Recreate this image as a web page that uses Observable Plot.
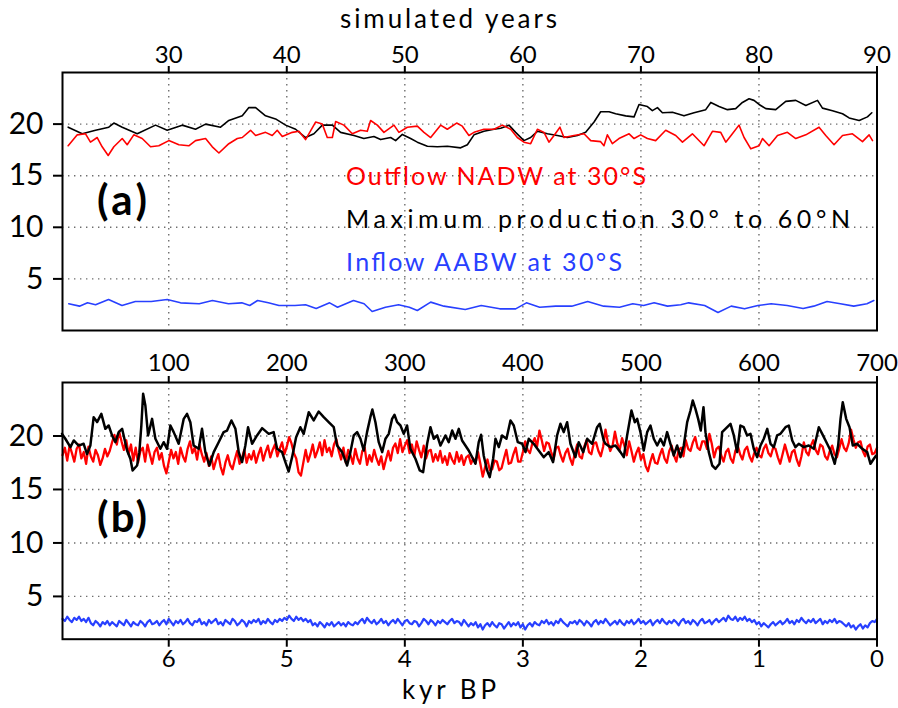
<!DOCTYPE html>
<html>
<head>
<meta charset="utf-8">
<script src="https://cdn.jsdelivr.net/npm/d3@7"></script>
<script src="https://cdn.jsdelivr.net/npm/@observablehq/plot@0.6"></script>
<style>
  html, body { margin: 0; padding: 0; background: #fff; }
  #wrap { position: relative; width: 898px; height: 708px; overflow: hidden; background: #fff; }
  #pa { position: absolute; left: 0; top: 0; }
  #pb { position: absolute; left: 0; top: 340px; }
  #ov { position: absolute; left: 0; top: 0; pointer-events: none; }
  svg text { font-family: Lato, "DejaVu Sans", sans-serif; }
  #pa g[aria-label="y-axis tick label"], #pb g[aria-label="y-axis tick label"] { font-size: 30px; }
  #pa g[aria-label="x-axis tick label"], #pb g[aria-label="x-axis tick label"] { font-size: 24px; }
</style>
</head>
<body>
<div id="wrap">
  <div id="pa"></div>
  <div id="pb"></div>
  <svg id="ov" width="898" height="708" xmlns="http://www.w3.org/2000/svg">
    <text x="340" y="28" font-size="26" textLength="217" lengthAdjust="spacing" fill="#000">simulated years</text>
    <text x="402" y="699" font-size="26" textLength="94" lengthAdjust="spacing" fill="#000">kyr BP</text>
    <text x="97" y="215" font-size="42" font-weight="bold" textLength="50" lengthAdjust="spacing" fill="#000">(a)</text>
    <text x="97" y="532" font-size="42" font-weight="bold" textLength="50" lengthAdjust="spacing" fill="#000">(b)</text>
    <text x="346" y="185" font-size="25" textLength="300" lengthAdjust="spacing" fill="#ff0000">Outflow NADW at 30°S</text>
    <text x="346" y="228" font-size="25" textLength="504" lengthAdjust="spacing" fill="#000">Maximum production 30° to 60°N</text>
    <text x="346" y="271" font-size="25" textLength="276" lengthAdjust="spacing" fill="#2840ff">Inflow AABW at 30°S</text>
  </svg>
</div>
<script>
// ---------- Panel (a): simulated years 21–90 ----------
const yearTicksA = [30, 40, 50, 60, 70, 80, 90];
const valueTicks = [5, 10, 15, 20];

// [simulated year, Sv]
const blackA = [
  [21.48,19.7],[22.67,19.06],[23.80,19.4],[24.92,19.7],[25.35,20.1],[26.06,19.7],[27.33,19.06],[28.88,19.9],
  [29.87,19.4],[31.14,19.9],[32.27,19.5],[33.12,20.0],[34.39,19.7],[35.09,20.35],[36.23,20.8],[36.79,21.6],
  [37.36,21.6],[38.20,20.8],[39.05,20.5],[39.90,19.9],[40.75,19.5],[41.59,18.7],[42.30,19.06],[43.01,19.9],
  [43.86,19.9],[44.56,19.2],[45.69,18.9],[46.53,18.6],[47.38,18.8],[47.95,18.5],[48.80,18.7],[49.22,18.4],
  [49.79,19.0],[50.49,18.6],[51.06,18.25],[51.91,17.85],[52.75,17.8],[53.60,17.85],[54.73,17.7],[55.30,18.0],
  [55.86,18.96],[56.70,19.3],[57.55,19.5],[58.12,19.6],[58.82,19.9],[59.39,19.2],[60.09,18.4],[60.66,18.7],
  [61.23,19.3],[62.08,19.06],[62.92,18.9],[63.77,18.7],[64.62,18.9],[65.32,19.2],[66.03,20.2],[66.59,21.2],
  [67.30,21.2],[67.86,21.0],[68.71,20.8],[69.42,20.7],[69.84,21.9],[70.55,21.7],[70.97,21.3],[71.40,21.6],
  [71.82,21.1],[72.67,21.15],[73.65,20.8],[74.50,21.1],[75.49,21.4],[75.92,22.1],[76.62,21.7],[77.33,21.4],
  [78.03,21.5],[78.60,22.1],[79.16,22.45],[79.58,22.3],[80.01,21.9],[80.58,21.5],[81.42,21.4],[82.27,22.2],
  [83.12,22.3],[83.97,21.8],[84.96,22.3],[85.38,21.55],[86.23,21.3],[87.08,21.0],[87.64,20.6],[88.49,20.35],
  [89.19,20.7],[89.56,21.1]
];
const redA = [
  [21.48,17.9],[22.25,18.96],[22.95,19.06],[23.37,18.25],[23.94,18.7],[24.36,17.8],[24.87,16.96],[25.35,17.8],
  [26.06,18.6],[26.48,18.0],[27.04,18.96],[27.75,18.6],[28.46,17.8],[29.16,17.9],[30.01,18.4],[30.86,18.0],
  [31.70,17.9],[32.27,18.4],[33.12,18.6],[33.69,17.8],[34.25,17.2],[35.09,18.1],[35.81,18.6],[36.23,18.7],
  [36.93,19.4],[37.36,18.9],[38.20,19.2],[38.77,18.9],[39.19,19.4],[39.62,18.8],[40.47,19.2],[41.03,19.3],
  [41.59,18.5],[42.44,20.2],[43.01,20.0],[43.43,18.7],[43.86,18.7],[44.14,20.25],[44.84,19.9],[45.55,19.06],
  [46.25,19.4],[46.82,19.3],[47.10,20.35],[47.67,19.9],[48.23,19.2],[49.08,19.9],[49.50,19.2],[50.21,19.7],
  [51.06,19.8],[51.62,19.2],[52.19,18.7],[53.03,19.9],[53.60,19.5],[54.39,20.1],[54.87,19.8],[55.43,18.9],
  [55.86,19.2],[56.70,19.5],[57.55,19.5],[58.26,19.9],[58.97,19.5],[59.53,18.7],[60.09,18.25],[60.66,18.1],
  [61.23,19.5],[61.79,19.2],[62.21,18.25],[62.64,18.9],[63.14,19.7],[63.48,18.7],[64.33,18.9],[65.18,19.06],
  [65.75,18.4],[66.59,18.3],[66.87,17.9],[67.16,18.96],[67.58,18.1],[68.14,18.6],[69.00,19.06],[69.42,18.6],
  [69.98,18.96],[70.55,18.6],[71.25,18.4],[72.10,19.4],[72.95,18.9],[73.52,18.25],[74.36,19.06],[75.35,17.9],
  [76.06,19.3],[76.76,19.2],[77.19,18.25],[77.75,19.06],[78.31,19.9],[78.74,18.7],[79.31,17.6],[80.01,17.9],
  [80.30,18.6],[80.86,17.9],[81.57,18.9],[82.41,19.2],[83.12,18.6],[83.97,18.96],[85.09,19.7],[85.66,18.9],
  [86.36,18.0],[87.08,18.9],[87.92,19.06],[88.77,18.3],[89.33,18.96],[89.62,18.4]
];
const blueA = [
  [21.53,2.59],[22.44,2.36],[23.12,2.68],[23.80,2.49],[24.90,3.0],[26.04,2.42],[27.17,2.81],[28.52,2.81],
  [29.19,2.91],[29.87,3.0],[31.00,2.68],[32.58,2.59],[33.70,2.91],[35.06,2.59],[36.19,2.68],[36.86,2.42],
  [37.53,2.91],[38.44,2.68],[39.34,2.42],[40.69,2.42],[41.59,2.49],[42.49,2.13],[43.63,2.68],[44.30,2.26],
  [45.65,2.91],[46.55,2.59],[47.23,1.84],[48.36,2.26],[49.47,2.49],[50.38,2.26],[51.06,1.94],[52.19,2.75],
  [53.31,2.36],[55.12,2.03],[56.47,2.42],[58.04,2.1],[59.39,2.1],[60.30,2.68],[61.42,2.26],[62.78,2.36],
  [64.14,2.36],[65.49,2.81],[66.84,2.36],[68.19,2.26],[69.31,2.59],[70.22,2.42],[71.12,2.68],[72.25,2.36],
  [73.37,2.49],[74.05,2.68],[75.40,2.42],[76.53,1.75],[77.65,2.36],[78.78,2.1],[79.91,2.42],[81.03,2.59],
  [82.39,2.42],[83.74,2.13],[84.64,2.36],[85.77,2.81],[86.90,2.59],[88.03,2.36],[89.15,2.59],[89.73,2.91]
];

// ---------- Panel (b): kyr BP 6.9 → 0 ----------
const kyrTicks = [6, 5, 4, 3, 2, 1, 0];
const simYearLabelsB = ["100", "200", "300", "400", "500", "600", "700"];

// [kyr BP, Sv]
const blackB = [
  [6.904,20.2],[6.876,19.74],[6.833,18.96],[6.805,19.58],[6.763,19.1],[6.721,19.27],[6.692,18.3],[6.664,19.1],
  [6.636,21.76],[6.607,21.3],[6.571,22.07],[6.537,20.67],[6.509,20.98],[6.480,20.05],[6.452,19.42],[6.424,20.36],
  [6.395,20.67],[6.353,18.64],[6.325,17.87],[6.306,16.78],[6.268,17.24],[6.249,18.49],[6.232,20.98],[6.217,23.94],
  [6.198,22.85],[6.175,20.05],[6.141,21.6],[6.113,19.74],[6.071,18.8],[6.043,19.42],[6.014,18.8],[5.986,20.98],
  [5.958,20.36],[5.916,19.27],[5.873,21.6],[5.845,22.07],[5.817,21.29],[5.789,19.11],[5.746,18.8],[5.718,20.67],
  [5.690,18.49],[5.656,17.24],[5.619,18.49],[5.577,19.42],[5.535,20.36],[5.506,20.51],[5.469,21.45],[5.435,20.67],
  [5.407,18.49],[5.379,17.55],[5.351,19.11],[5.328,20.82],[5.294,19.27],[5.252,20.05],[5.209,20.73],[5.153,20.2],
  [5.111,20.36],[5.082,18.8],[5.040,18.49],[5.012,17.55],[4.984,16.68],[4.955,18.02],[4.921,19.89],[4.885,20.82],
  [4.857,20.2],[4.814,22.22],[4.772,21.45],[4.730,22.29],[4.687,21.76],[4.645,21.29],[4.602,20.82],[4.574,19.11],
  [4.531,18.49],[4.489,17.24],[4.461,18.49],[4.433,20.05],[4.404,20.36],[4.376,19.74],[4.348,18.64],[4.320,20.36],
  [4.292,21.76],[4.275,22.48],[4.249,21.29],[4.221,19.42],[4.192,18.49],[4.164,19.74],[4.136,20.2],[4.108,21.6],
  [4.088,21.98],[4.065,21.29],[4.037,20.98],[4.009,20.2],[3.981,20.98],[3.953,18.8],[3.910,17.87],[3.874,16.78],
  [3.845,16.62],[3.811,19.27],[3.783,20.82],[3.755,19.74],[3.726,20.05],[3.698,19.11],[3.656,20.05],[3.628,19.42],
  [3.599,20.51],[3.571,19.74],[3.543,20.67],[3.515,19.58],[3.487,19.11],[3.459,18.64],[3.430,18.02],[3.402,17.4],
  [3.374,19.42],[3.354,20.11],[3.332,18.18],[3.303,16.78],[3.281,16.15],[3.252,17.87],[3.232,19.74],[3.204,18.96],
  [3.176,20.05],[3.139,19.74],[3.105,21.45],[3.077,20.98],[3.043,19.42],[3.006,19.27],[2.978,18.49],[2.950,19.74],
  [2.908,19.27],[2.866,18.64],[2.823,18.02],[2.781,18.49],[2.744,17.55],[2.710,20.05],[2.682,21.14],[2.654,20.36],
  [2.625,21.29],[2.597,19.27],[2.555,18.02],[2.527,19.42],[2.489,18.49],[2.455,19.74],[2.413,19.27],[2.371,20.82],
  [2.349,21.14],[2.315,19.58],[2.300,19.27],[2.258,18.96],[2.216,19.11],[2.173,18.49],[2.145,18.02],[2.117,20.05],
  [2.080,22.38],[2.052,21.29],[2.032,21.6],[2.004,20.36],[1.976,18.64],[1.947,20.36],[1.919,20.98],[1.891,19.74],
  [1.862,19.11],[1.834,19.74],[1.806,19.11],[1.778,20.36],[1.750,19.27],[1.722,18.18],[1.693,19.11],[1.665,18.02],
  [1.637,19.11],[1.608,21.29],[1.580,22.38],[1.561,23.32],[1.538,22.54],[1.515,21.6],[1.493,20.51],[1.470,22.69],
  [1.453,20.36],[1.425,18.49],[1.396,17.24],[1.368,16.93],[1.334,17.4],[1.312,20.36],[1.284,20.67],[1.241,21.14],
  [1.213,20.05],[1.185,18.49],[1.157,20.98],[1.129,20.82],[1.100,20.05],[1.072,20.2],[1.044,18.8],[1.015,18.02],
  [0.987,19.11],[0.959,19.74],[0.930,20.67],[0.902,19.27],[0.874,18.96],[0.846,20.05],[0.818,20.2],[0.775,20.82],
  [0.747,20.98],[0.718,19.58],[0.691,18.96],[0.663,19.27],[0.620,18.96],[0.578,19.11],[0.535,18.8],[0.493,20.82],
  [0.464,20.2],[0.436,19.58],[0.394,18.64],[0.358,17.4],[0.329,19.11],[0.309,21.6],[0.290,23.16],[0.261,21.6],
  [0.233,20.82],[0.205,19.11],[0.168,19.27],[0.125,18.8],[0.083,18.49],[0.055,17.4],[0.027,17.87],[0.007,18.18]
];

// uniformly sampled series: first sample at 6.9 kyr BP, one sample every 0.02 kyr
const sampleStartB = 6.9;
const sampleStepB = 0.02;
const redB = [
  18.2,18.9,17.7,19.1,18.4,17.6,18.8,19.2,17.9,18.5,17.4,19.0,18.1,17.6,18.7,18.2,17.3,17.9,18.8,18.1,
  18.6,19.4,20.1,19.2,20.4,19.5,18.7,19.6,18.3,19.2,17.7,18.9,17.5,18.6,18.9,17.6,19.2,18.3,17.4,18.5,
  18.9,17.8,18.4,17.2,16.5,17.6,18.7,17.9,18.5,17.4,18.9,18.1,17.6,18.8,19.5,18.4,18.9,17.8,19.2,18.3,
  17.6,18.4,17.2,18.1,16.9,17.7,18.3,17.1,16.4,17.5,18.2,17.3,16.9,17.8,18.6,17.4,17.9,18.7,17.5,18.3,
  17.8,18.6,17.5,18.3,18.9,17.7,18.5,19.1,18.0,18.7,19.2,18.1,18.8,19.4,18.3,19.0,19.9,19.3,18.4,17.9,
  16.6,16.3,17.5,18.7,17.6,18.3,19.2,18.0,18.6,19.4,18.2,19.6,18.5,18.9,18.1,19.2,
  19.7,18.6,17.8,18.9,17.5,18.7,18.2,17.4,18.8,17.9,17.4,18.6,18.9,17.3,18.2,17.6,18.7,17.9,17.3,18.1,
  16.9,17.8,18.6,17.7,18.9,19.3,18.4,19.7,18.5,19.1,19.6,18.4,19.2,18.1,19.5,18.7,18.0,19.1,17.9,18.6,
  18.7,17.6,18.3,17.7,18.6,17.5,18.1,17.3,18.4,17.8,17.4,18.5,17.6,18.2,17.3,18.0,18.2,17.4,17.9,17.5,
  18.5,17.4,16.2,17.1,17.8,16.8,16.9,17.7,17.6,16.8,17.0,17.9,18.7,17.4,17.5,18.3,18.9,17.6,17.6,18.5,
  19.5,18.7,18.4,19.3,19.8,19.0,20.5,19.6,18.6,19.4,19.3,18.5,17.8,18.9,19.0,18.2,17.6,18.4,18.8,17.9,
  17.3,18.4,19.2,18.1,17.9,19.0,19.6,18.5,18.3,19.3,19.4,18.6,18.1,19.0,20.6,19.4,18.6,19.1,
  20.4,19.3,18.7,19.8,19.1,18.2,19.5,18.6,17.6,18.4,18.9,17.8,18.3,17.2,16.7,17.6,18.3,17.5,17.4,18.2,
  18.8,17.9,17.5,18.6,19.1,18.2,17.6,18.7,18.9,18.1,19.6,18.8,18.6,19.4,19.9,18.9,18.7,19.5,19.5,18.8,
  20.2,19.3,18.0,18.8,19.0,18.2,17.6,18.5,18.8,17.9,17.5,18.6,19.1,18.3,17.8,18.7,19.0,18.1,17.6,18.4,
  18.9,18.2,18.0,18.8,19.2,18.4,18.1,18.9,18.8,18.0,17.4,18.3,19.2,18.4,17.6,18.5,18.7,17.8,17.2,18.1,
  19.4,18.5,18.2,19.1,19.6,18.7,18.3,19.2,19.0,18.1,17.8,18.6,19.1,18.3,18.0,18.8,19.7,18.9,18.6,19.3,
  20.6,19.7,18.9,19.4,19.5,18.6,18.1,19.0,19.2,18.3,18.4,18.9
];
const blueB = [
  2.9,2.7,3.1,2.8,2.6,3.0,2.8,3.1,2.7,2.9,2.6,3.0,2.5,2.3,2.7,2.5,2.2,2.6,2.4,2.7,
  2.3,2.6,2.4,2.2,2.7,2.5,2.3,2.8,2.5,2.2,2.6,2.4,2.3,2.7,2.5,2.2,2.6,2.8,2.4,2.5,
  2.7,2.3,2.6,2.8,2.4,2.9,2.6,2.3,2.7,2.5,2.8,2.4,2.6,2.9,2.5,2.3,2.7,2.6,2.9,2.4,
  2.6,2.3,2.8,2.5,2.7,2.9,2.4,2.6,2.3,2.8,2.6,2.4,2.9,2.7,2.3,2.5,2.8,2.6,2.2,2.7,
  2.5,2.8,2.6,2.9,2.4,2.7,2.5,2.9,2.6,2.4,2.8,2.6,2.9,2.7,3.0,2.8,3.2,2.9,2.7,3.1,
  2.8,3.0,2.7,2.9,2.6,2.8,2.3,2.5,2.2,2.6,2.4,2.1,2.5,2.3,2.6,2.2,2.4,2.6,2.3,2.5,
  2.2,2.6,2.4,2.3,2.6,2.4,2.7,2.9,2.5,3.0,2.7,2.5,2.8,2.4,2.6,2.9,2.5,2.7,2.3,2.6,
  2.8,2.5,2.9,2.6,2.3,2.7,2.8,2.5,2.4,2.7,2.6,2.2,2.5,2.9,2.7,2.4,2.8,2.6,2.3,2.7,
  2.5,2.8,2.6,2.4,2.7,2.9,2.5,2.7,2.6,2.3,2.8,2.5,2.2,2.5,2.3,2.6,2.1,2.4,1.9,2.3,
  2.5,2.2,2.6,2.3,2.1,2.5,2.4,2.0,2.3,2.6,2.2,2.5,2.3,2.6,2.1,2.4,1.9,2.3,2.5,2.2,
  2.6,2.4,2.3,2.7,2.5,2.8,2.4,2.6,2.3,2.7,2.5,2.9,2.6,2.4,2.2,2.6,2.5,2.7,2.4,2.8,
  2.6,2.3,2.7,2.5,2.2,2.6,2.8,2.4,2.7,2.5,2.9,2.6,2.3,2.5,2.7,2.4,2.8,2.5,2.3,2.7,
  2.5,2.8,2.4,2.6,2.9,2.5,2.7,2.4,2.6,2.8,2.3,2.6,2.8,2.5,2.9,2.6,2.4,2.7,2.5,2.8,
  2.6,2.3,2.7,2.9,2.5,2.7,2.4,2.8,2.6,2.3,2.7,2.9,2.5,2.6,2.8,2.4,2.7,2.9,2.6,2.8,
  3.0,2.7,3.2,2.9,2.8,3.1,2.7,3.0,2.8,3.1,2.7,2.9,2.6,2.8,2.4,2.6,2.2,2.5,2.3,2.1,
  2.4,2.6,2.3,2.5,2.7,2.4,2.6,2.9,2.5,2.7,2.4,2.8,2.6,3.0,2.7,2.5,2.8,2.6,2.9,2.5,
  2.7,2.9,2.4,2.7,2.5,2.8,2.6,2.9,2.5,2.7,2.6,2.4,2.2,2.5,2.1,2.3,1.9,2.2,2.4,2.0,
  2.3,2.1,2.5,2.7,2.6,2.9
];

const RED = "#ff0000", BLUE = "#2840ff", BLACK = "#000000";
const FONT = 'Lato, "DejaVu Sans", sans-serif';
const grid = { stroke: "#6e6e6e", strokeOpacity: 1, strokeWidth: 1.4, strokeDasharray: "1.4,4.6" };
const series = (rows) => rows.map(([x, y]) => ({ x, y }));
const sampled = (vals) => vals.map((y, i) => ({ x: sampleStartB - i * sampleStepB, y }));

const plotA = Plot.plot({
  width: 898, height: 340,
  marginLeft: 62, marginRight: 21.5, marginTop: 72, marginBottom: 10,
  style: { fontFamily: FONT, fontSize: "24px", color: "#000", background: "transparent", overflow: "visible" },
  x: { domain: [21, 90] },
  y: { domain: [0, 25] },
  marks: [
    Plot.gridX(yearTicksA, grid),
    Plot.gridY(valueTicks, grid),
    Plot.line(series(blackA), { x: "x", y: "y", stroke: BLACK, strokeWidth: 1.6 }),
    Plot.line(series(redA), { x: "x", y: "y", stroke: RED, strokeWidth: 1.6 }),
    Plot.line(series(blueA), { x: "x", y: "y", stroke: BLUE, strokeWidth: 1.6 }),
    Plot.axisX(yearTicksA, { anchor: "top", tickSize: 7, tickPadding: 3, strokeWidth: 2, fontSize: 24, label: null }),
    Plot.axisY(valueTicks, { anchor: "left", tickSize: 9, tickPadding: 10, strokeWidth: 2, fontSize: 30, label: null }),
    Plot.frame({ stroke: BLACK, strokeWidth: 2 })
  ]
});

const plotB = Plot.plot({
  width: 898, height: 368,
  marginLeft: 62, marginRight: 21.5, marginTop: 42, marginBottom: 69.3,
  style: { fontFamily: FONT, fontSize: "24px", color: "#000", background: "transparent", overflow: "visible" },
  x: { domain: [6.9, 0] },
  y: { domain: [1, 25] },
  marks: [
    Plot.gridX(kyrTicks, grid),
    Plot.gridY(valueTicks, grid),
    Plot.line(sampled(redB), { x: "x", y: "y", stroke: RED, strokeWidth: 2.3 }),
    Plot.line(series(blackB), { x: "x", y: "y", stroke: BLACK, strokeWidth: 2.5 }),
    Plot.line(sampled(blueB), { x: "x", y: "y", stroke: BLUE, strokeWidth: 2.2 }),
    Plot.axisX(kyrTicks, { anchor: "top", tickSize: 7, tickPadding: 5, strokeWidth: 2, fontSize: 24, label: null,
      tickFormat: (k) => simYearLabelsB[kyrTicks.indexOf(k)] }),
    Plot.axisX(kyrTicks, { anchor: "bottom", tickSize: 8, tickPadding: 3, strokeWidth: 2, fontSize: 24, label: null,
      tickFormat: (k) => String(k) }),
    Plot.axisY(valueTicks, { anchor: "left", tickSize: 9, tickPadding: 10, strokeWidth: 2, fontSize: 30, label: null }),
    Plot.frame({ stroke: BLACK, strokeWidth: 2 })
  ]
});

document.getElementById("pa").appendChild(plotA);
document.getElementById("pb").appendChild(plotB);
</script>
</body>
</html>
